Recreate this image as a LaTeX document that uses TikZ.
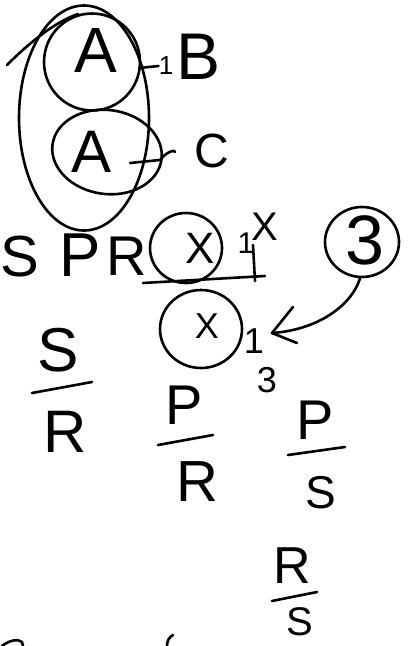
\documentclass[tikz,border=0pt]{standalone}
\usepackage{fontspec}
\setmainfont{Liberation Sans}
\usetikzlibrary{shapes.geometric}
\begin{document}
\begin{tikzpicture}[x=1pt,y=-1pt,
  ink/.style={line width=2.6pt,line cap=round,line join=round,black},
  hw/.style={font=\fontsize{#1}{#1}\selectfont,inner sep=0pt,anchor=center}]
\useasboundingbox[fill=white] (0,0) rectangle (409,646);
% top group
\node[hw=64] (a1) at (96,50) {A};
\node[ink,draw,ellipse,minimum width=96pt,minimum height=97pt] (e1) at (92,62) {};
\node[hw=26] (one1) at (166,66) {1};
\node[hw=66] (b) at (199,57) {B};
\draw[ink] (e1.east) ++(-2,6) -- (one1.west);
\node[hw=60] (a2) at (92,152) {A};
\node[ink,draw,ellipse,minimum width=110pt,minimum height=84pt,rotate=-8] (e2) at (107,152) {};
\node[hw=48] (c) at (212,151) {C};
\coordinate (ct) at (175,152);
\draw[ink] (130,163) -- (160,160) .. controls (168,150) and (176,150) .. (ct);
\node[ink,draw,ellipse,minimum width=130pt,minimum height=225pt] (big) at (84,118) {};
\draw[ink] (7,65) .. controls (30,42) and (55,22) .. (78,14);
% row S P R
\node[hw=58] (s0) at (20,257) {S};
\node[hw=62] (p0) at (80,255) {P};
\node[hw=56] (r0) at (127,256) {R};
\node[hw=44] (x1) at (200,248) {X};
\node[ink,draw,ellipse,minimum width=72pt,minimum height=70pt] (ex1) at (186,248) {};
\node[hw=30] (one2) at (246,243) {1};
\node[hw=40] (xs) at (265,227) {X};
\coordinate (u1) at (143,283);
\coordinate (u2) at (265,276);
\draw[ink] (u1) -- (u2);
\draw[ink] (253,245) -- (255,281);
\node[hw=70] (three) at (365,240) {3};
\node[ink,draw,ellipse,minimum width=74pt,minimum height=70pt] (e3) at (362,242) {};
\node[hw=36] (x2) at (207,326) {X};
\node[ink,draw,ellipse,minimum width=82pt,minimum height=78pt] (ex2) at (201,329) {};
\node[hw=36] (one3) at (254,341) {1};
\node[hw=36] (three2) at (267,380) {3};
\coordinate (tip) at (272,333);
\draw[ink] (e3.south) ++(-2,0) .. controls (352,305) and (318,330) .. (tip);
\draw[ink] (293,307) -- (tip) -- (297,343);
% fractions
\node[hw=62] (fs1) at (58,350) {S};
\draw[ink] (32,393) -- (92,382);
\node[hw=60] (fr1) at (65,432) {R};
\node[hw=56] (fp2) at (184,405) {P};
\draw[ink] (158,445) -- (213,435);
\node[hw=58] (fr2) at (197,482) {R};
\node[hw=56] (fp3) at (315,420) {P};
\draw[ink] (288,455) -- (345,447);
\node[hw=46] (fs3) at (321,493) {S};
\node[hw=52] (fr4) at (292,566) {R};
\draw[ink] (272,601) -- (317,592);
\node[hw=40] (fs4) at (300,622) {S};
% partial strokes at the bottom
\draw[ink] (2,646) .. controls (8,641) and (18,638) .. (22,642) -- (23,646);
\draw[ink] (173,635) .. controls (169,637) and (167,641) .. (167,646);
\end{tikzpicture}
\end{document}
